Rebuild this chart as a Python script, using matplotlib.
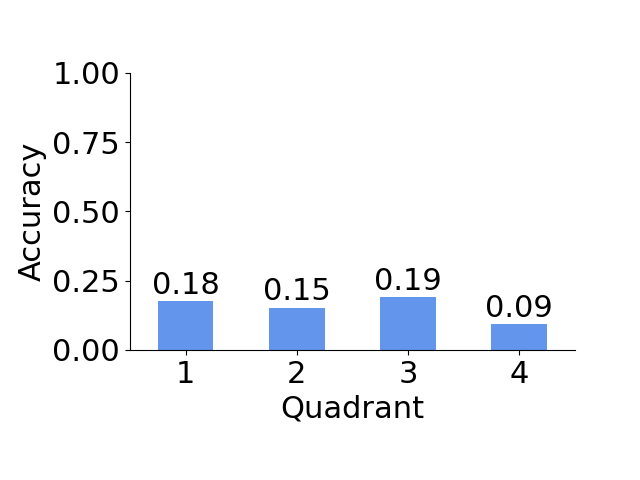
import matplotlib
matplotlib.use("Agg")
import matplotlib.pyplot as plt

# Datos
cuadrantes = ["1", "2", "3", "4"]
precision = [0.177, 0.152, 0.191, 0.094]
etiquetas = ["0.18", "0.15", "0.19", "0.09"]

fig = plt.figure(figsize=(6.4, 4.8), dpi=100)
ax = fig.add_axes([0.203, 0.271, 0.695, 0.577])

posiciones = range(len(cuadrantes))
barras = ax.bar(posiciones, precision, width=0.5, color="cornflowerblue")
for barra, texto in zip(barras, etiquetas):
    ax.text(barra.get_x() + barra.get_width() / 2, barra.get_height() + 0.005,
            texto, ha="center", va="bottom", fontsize=22)

ax.set_xlim(-0.5, 3.5)
ax.set_xticks(list(posiciones))
ax.set_xticklabels(cuadrantes)
ax.set_ylim(0, 1)
ax.set_yticks([0, 0.25, 0.5, 0.75, 1.0])
ax.set_yticklabels(["0.00", "0.25", "0.50", "0.75", "1.00"])
ax.tick_params(labelsize=22)
ax.set_xlabel("Quadrant", fontsize=22)
ax.set_ylabel("Accuracy", fontsize=22)
ax.spines["top"].set_visible(False)
ax.spines["right"].set_visible(False)

fig.savefig("out.png", dpi=100)
